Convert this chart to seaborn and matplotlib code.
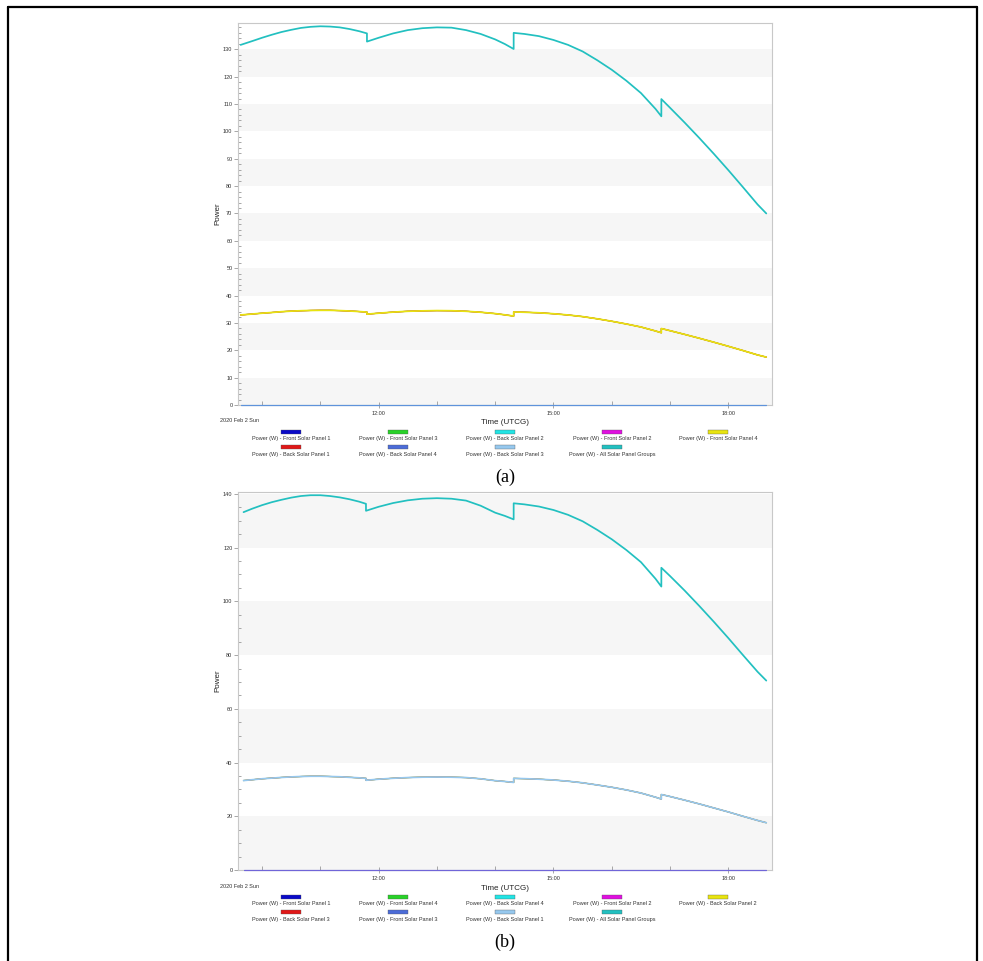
import numpy as np
import pandas as pd
import seaborn as sns
import matplotlib.pyplot as plt
import matplotlib.dates as mdates
from matplotlib.ticker import MultipleLocator
from matplotlib.patches import Rectangle
from matplotlib.lines import Line2D

day = "2020-02-02 "

# panel (a) readings
times_a = ["09:38", "09:50", "10:00", "10:10", "10:20", "10:30", "10:40", "10:50",
           "11:00", "11:10", "11:20", "11:30", "11:40", "11:48", "11:48", "12:00",
           "12:15", "12:30", "12:45", "13:00", "13:15", "13:30", "13:45", "14:00",
           "14:10", "14:19", "14:19", "14:30", "14:45", "15:00", "15:15", "15:30",
           "15:45", "16:00", "16:15", "16:30", "16:45", "16:51", "16:51", "17:00",
           "17:15", "17:30", "17:45", "18:00", "18:15", "18:30", "18:39"]
total_a = [131.6, 133.0, 134.2, 135.3, 136.3, 137.1, 137.8, 138.2,
           138.4, 138.3, 138.0, 137.4, 136.6, 135.8, 132.8, 134.2,
           135.8, 137.0, 137.7, 138.0, 137.9, 137.0, 135.6, 133.6,
           131.9, 130.1, 136.0, 135.6, 134.8, 133.4, 131.6, 129.2,
           126.0, 122.5, 118.5, 114.0, 108.2, 105.5, 111.8, 108.6,
           103.2, 97.6, 91.8, 85.8, 79.6, 73.3, 70.0]
panel_a = [32.9, 33.25, 33.55, 33.8, 34.1, 34.3, 34.45, 34.55,
           34.6, 34.6, 34.5, 34.35, 34.15, 33.95, 33.2, 33.55,
           33.95, 34.25, 34.4, 34.5, 34.45, 34.25, 33.9, 33.4,
           32.95, 32.5, 34.0, 33.9, 33.7, 33.35, 32.9, 32.3,
           31.5, 30.6, 29.6, 28.5, 27.05, 26.4, 27.95, 27.15,
           25.8, 24.4, 22.95, 21.45, 19.9, 18.3, 17.5]

# panel (b) readings
times_b = ["09:41", "09:50", "10:00", "10:10", "10:20", "10:30", "10:40", "10:50",
           "11:00", "11:10", "11:20", "11:30", "11:40", "11:47", "11:47", "12:00",
           "12:15", "12:30", "12:45", "13:00", "13:15", "13:30", "13:45", "14:00",
           "14:10", "14:19", "14:19", "14:30", "14:45", "15:00", "15:15", "15:30",
           "15:45", "16:00", "16:15", "16:30", "16:45", "16:51", "16:51", "17:00",
           "17:15", "17:30", "17:45", "18:00", "18:15", "18:30", "18:39"]
total_b = [133.2, 134.5, 135.8, 136.9, 137.8, 138.6, 139.2, 139.5,
           139.5, 139.2, 138.7, 138.0, 137.1, 136.3, 133.7, 135.2,
           136.6, 137.6, 138.2, 138.4, 138.2, 137.5, 135.6, 133.0,
           131.8, 130.5, 136.5, 136.1, 135.3, 134.0, 132.2, 129.8,
           126.6, 123.1, 119.1, 114.6, 108.4, 105.5, 112.5, 109.4,
           104.0, 98.3, 92.4, 86.3, 80.0, 73.8, 70.5]
panel_b = [33.3, 33.6, 33.95, 34.2, 34.45, 34.65, 34.8, 34.9,
           34.9, 34.8, 34.7, 34.5, 34.3, 34.1, 33.4, 33.8,
           34.15, 34.4, 34.55, 34.6, 34.55, 34.4, 33.95, 33.25,
           32.95, 32.6, 34.1, 34.0, 33.8, 33.5, 33.05, 32.45,
           31.65, 30.8, 29.8, 28.65, 27.1, 26.4, 28.1, 27.35,
           26.0, 24.6, 23.1, 21.6, 20.0, 18.45, 17.6]

labels_a = ["Power (W) - Front Solar Panel 1", "Power (W) - Front Solar Panel 3",
            "Power (W) - Back Solar Panel 2", "Power (W) - Front Solar Panel 2",
            "Power (W) - Front Solar Panel 4", "Power (W) - Back Solar Panel 1",
            "Power (W) - Back Solar Panel 4", "Power (W) - Back Solar Panel 3",
            "Power (W) - All Solar Panel Groups"]
labels_b = ["Power (W) - Front Solar Panel 1", "Power (W) - Front Solar Panel 4",
            "Power (W) - Back Solar Panel 4", "Power (W) - Front Solar Panel 2",
            "Power (W) - Back Solar Panel 2", "Power (W) - Back Solar Panel 3",
            "Power (W) - Front Solar Panel 3", "Power (W) - Back Solar Panel 1",
            "Power (W) - All Solar Panel Groups"]
legend_colors = ["#0a0ac8", "#28d228", "#22e4e4", "#e010e0", "#e8e410",
                 "#e01818", "#4c6cd8", "#96c8ee", "#22c0c0"]
# entries that carry the per-panel curve (last one ends up on top)
live_a = [1, 3, 5, 4]
live_b = [1, 4, 5, 7]

sns.set_style("white")
plt.rcParams["font.family"] = ["Liberation Sans", "DejaVu Sans"]

W, H = 983, 961
fig = plt.figure(figsize=(W / 100, H / 100), dpi=100)


def fx(x):
    return x / W


def fy(y):
    return 1 - y / H


def draw_panel(ax, times, total, panel, labels, live, ytop, band, major, minor):
    t = pd.to_datetime([day + s for s in times])
    palette = dict(zip(labels, legend_colors))
    # zero series along the bottom
    dead = [labels[i] for i in range(8) if i not in live and i != 6] + [labels[6]]
    df_zero = pd.concat([pd.DataFrame({"time": t[[0, -1]], "power": [0, 0], "series": lab})
                         for lab in dead], ignore_index=True)
    sns.lineplot(data=df_zero, x="time", y="power", hue="series", hue_order=dead,
                 palette=palette, estimator=None, sort=False, legend=False,
                 linewidth=0.8, alpha=0.45, clip_on=False, zorder=3, ax=ax)
    # the hidden ones under the top curve
    under = [labels[i] for i in live[:-1]]
    df_low = pd.concat([pd.DataFrame({"time": t, "power": panel, "series": lab})
                        for lab in under], ignore_index=True)
    sns.lineplot(data=df_low, x="time", y="power", hue="series", hue_order=under,
                 palette=palette, estimator=None, sort=False, legend=False,
                 linewidth=0.8, ax=ax)
    top = labels[live[-1]]
    df_top = pd.concat([
        pd.DataFrame({"time": t, "power": panel, "series": top}),
        pd.DataFrame({"time": t, "power": total, "series": labels[-1]}),
    ], ignore_index=True)
    sns.lineplot(data=df_top, x="time", y="power", hue="series",
                 hue_order=[top, labels[-1]], palette=palette, estimator=None,
                 sort=False, legend=False, linewidth=1.25, ax=ax)
    for lo in np.arange(0, ytop, 2 * band):
        ax.axhspan(lo, lo + band, color="#f6f6f6", zorder=0, lw=0)
    ax.set_ylim(0, ytop)
    ax.set_xlim(pd.Timestamp("2020-02-02 09:35:17"), pd.Timestamp("2020-02-02 18:44:53"))
    ax.xaxis.set_major_locator(mdates.HourLocator(byhour=[12, 15, 18]))
    ax.xaxis.set_major_formatter(mdates.DateFormatter("%H:%M"))
    ax.xaxis.set_minor_locator(mdates.HourLocator())
    ax.yaxis.set_major_locator(MultipleLocator(major))
    ax.yaxis.set_minor_locator(MultipleLocator(minor))
    ax.tick_params(axis="x", which="major", direction="inout", length=5, width=0.6,
                   color="#999999", labelsize=4, labelcolor="#333333", pad=2)
    ax.tick_params(axis="x", which="minor", direction="in", length=3, width=0.6,
                   color="#999999")
    ax.tick_params(axis="y", which="major", direction="out", length=3, width=0.6,
                   color="#999999", labelsize=4, labelcolor="#333333", pad=1)
    ax.tick_params(axis="y", which="minor", direction="in", length=2.5, width=0.6,
                   color="#999999")
    ax.tick_params(bottom=True, left=True, which="both")
    for s in ax.spines.values():
        s.set_color("#c8c8c8")
        s.set_linewidth(0.8)
    ax.set_xlabel("")
    ax.set_ylabel("")


ax_a = fig.add_axes([fx(238), fy(405), fx(772 - 238), (405 - 23) / H])
ax_b = fig.add_axes([fx(238), fy(870), fx(772 - 238), (870 - 492) / H])
draw_panel(ax_a, times_a, total_a, panel_a, labels_a, live_a, 139.6, 10, 10, 2)
draw_panel(ax_b, times_b, total_b, panel_b, labels_b, live_b, 140.7, 20, 20, 5)

col_x = [291, 398, 505, 612, 718]
for labels, off, cap, axy in [(labels_a, 0, "(a)", 214), (labels_b, 465, "(b)", 681)]:
    fig.text(fx(218), fy(axy), "Power", rotation=90, ha="center", va="center",
             fontsize=5.8, color="#222222")
    fig.text(fx(220), fy(421 + off), "2020 Feb 2 Sun", ha="left", va="center",
             fontsize=4, color="#333333")
    fig.text(fx(505), fy(423 + off), "Time (UTCG)", ha="center", va="center",
             fontsize=5.8, color="#222222")
    for i, lab in enumerate(labels):
        row, c = divmod(i, 5)
        cx = col_x[c]
        py = [432, 447][row] + off
        ty = [439, 454][row] + off
        fig.patches.append(Rectangle((fx(cx - 10), fy(py + 1.7)), fx(20), 3.4 / H,
                                     transform=fig.transFigure,
                                     facecolor=legend_colors[i], edgecolor="#555555",
                                     lw=0.25))
        fig.text(fx(cx), fy(ty), lab, ha="center", va="center", fontsize=4,
                 color="#333333")
    fig.text(fx(505), fy(477 + off), cap, ha="center", va="center", fontsize=13,
             family=["Liberation Serif", "DejaVu Serif"], color="black")

# outer frame of the figure
for xs, ys in [([8, 8], [7, 961]), ([8, 977], [7, 7]), ([977, 977], [7, 961])]:
    fig.add_artist(Line2D([fx(x) for x in xs], [fy(y) for y in ys],
                          color="black", lw=1.6))

fig.savefig("out.png", dpi=100)
